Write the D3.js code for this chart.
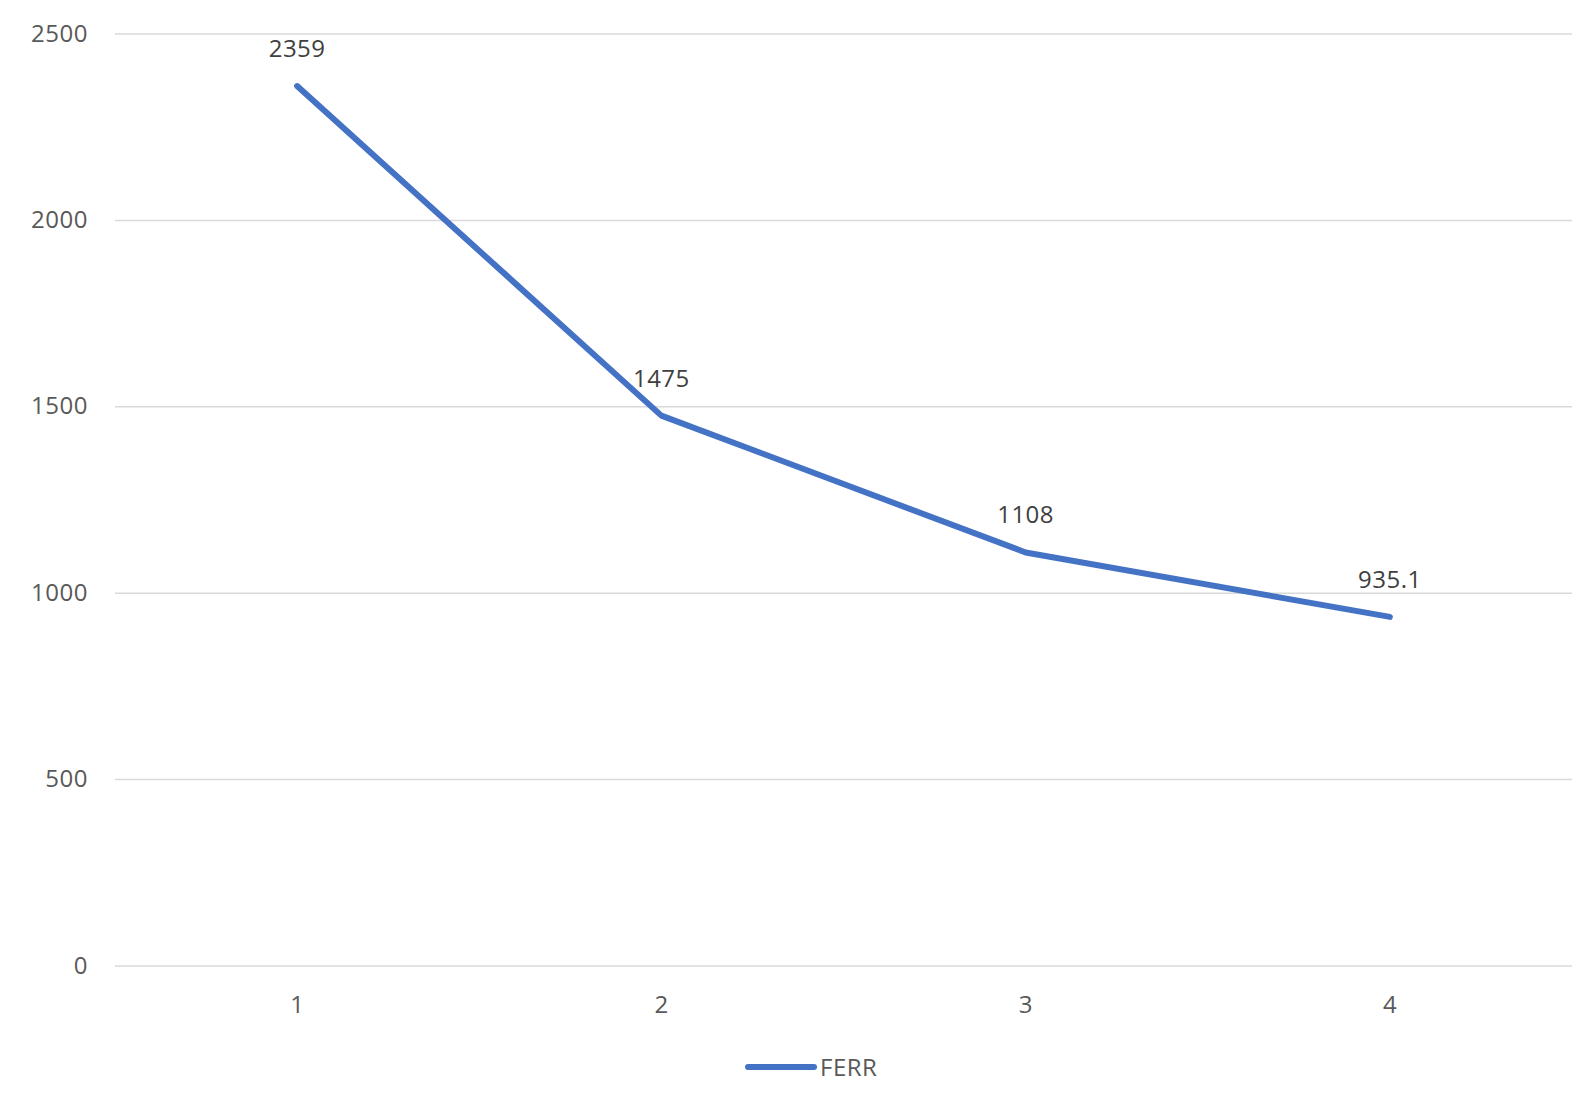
<!DOCTYPE html>
<html>
<head>
<meta charset="utf-8">
<script src="https://cdn.jsdelivr.net/npm/d3@7/dist/d3.min.js"></script>
<style>
  html, body { margin: 0; padding: 0; background: #fff; }
  svg { display: block; }
  text { font-family: "Open Sans", "Liberation Sans", sans-serif; }
</style>
</head>
<body>
<svg id="chart" width="1592" height="1100"></svg>
<script>
const categories = ["1", "2", "3", "4"];
const ferrValues = [2359, 1475, 1108, 935.1];
const valueLabels = ["2359", "1475", "1108", "935.1"];
const yTicks = [0, 500, 1000, 1500, 2000, 2500];
const seriesName = "FERR";

(function () {
const svg = d3.select("#chart");
const plotLeft = 115, plotRight = 1572, plotTop = 33.5, plotBottom = 965.5;
const fs = 24;

const x = d3.scaleBand().domain(categories).range([plotLeft, plotRight]);
const y = d3.scaleLinear().domain([0, 2500]).range([plotBottom, plotTop]);

// gridlines
const yAxis = d3.axisLeft(y).tickValues(yTicks).tickSize(-(plotRight - plotLeft)).tickPadding(27).tickFormat(d3.format("d"));
const gy = svg.append("g").attr("transform", `translate(${plotLeft},0)`).call(yAxis);
gy.select(".domain").remove();
gy.selectAll(".tick line").attr("stroke", "#d9d9d9").attr("stroke-width", 1.5);
gy.selectAll(".tick text").attr("fill", "#595959").attr("font-size", fs)
  .attr("font-family", "'Open Sans', sans-serif").attr("letter-spacing", 0.5);

// x axis labels
const xAxis = d3.axisBottom(x).tickSize(0).tickPadding(30);
const gx = svg.append("g").attr("transform", `translate(0,${plotBottom})`).call(xAxis);
gx.select(".domain").remove();
gx.selectAll(".tick text").attr("fill", "#595959").attr("font-size", fs)
  .attr("font-family", "'Open Sans', sans-serif");

// line
const cx = d => x(d) + x.bandwidth() / 2;
const line = d3.line().x((d, i) => cx(categories[i])).y(d => y(d));
svg.append("path").datum(ferrValues)
  .attr("d", line)
  .attr("fill", "none")
  .attr("stroke", "#4472C4")
  .attr("stroke-width", 6)
  .attr("stroke-linecap", "round")
  .attr("stroke-linejoin", "round");

// data labels
svg.append("g").selectAll("text").data(ferrValues).join("text")
  .attr("x", (d, i) => cx(categories[i]))
  .attr("y", d => y(d) - 29)
  .attr("text-anchor", "middle")
  .attr("fill", "#404040")
  .attr("font-size", fs)
  .attr("letter-spacing", 0.5)
  .text((d, i) => valueLabels[i]);

// legend
const lg = svg.append("g");
lg.append("line").attr("x1", 748).attr("x2", 814).attr("y1", 1067).attr("y2", 1067)
  .attr("stroke", "#4472C4").attr("stroke-width", 6).attr("stroke-linecap", "round");
lg.append("text").attr("x", 820).attr("y", 1076).attr("fill", "#595959")
  .attr("font-size", fs).attr("letter-spacing", 0.5).text(seriesName);
})();
</script>
</body>
</html>
